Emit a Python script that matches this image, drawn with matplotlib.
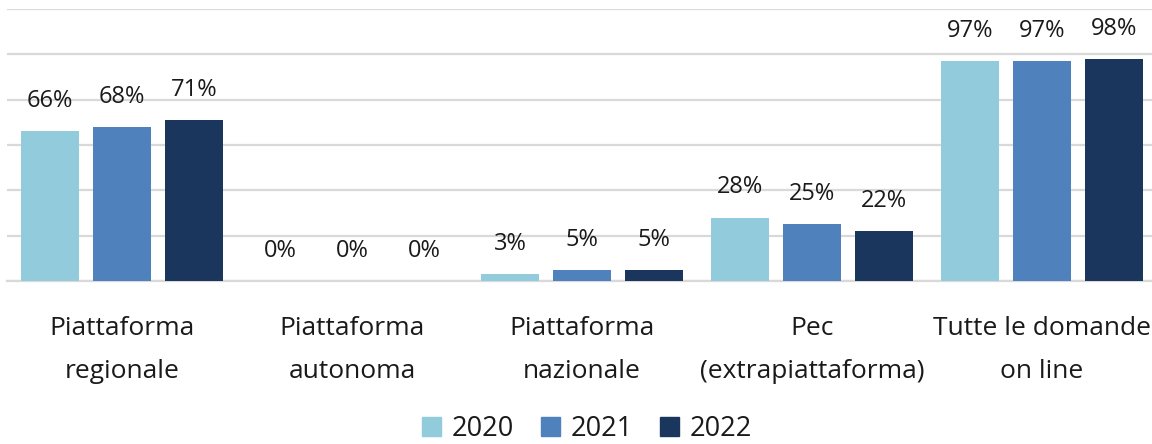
import numpy as np
import matplotlib
matplotlib.use('Agg')
import matplotlib.pyplot as plt
from matplotlib.patches import Patch

plt.rcParams['font.family'] = ['Open Sans', 'DejaVu Sans']

categories = ['Piattaforma\nregionale', 'Piattaforma\nautonoma', 'Piattaforma\nnazionale',
              'Pec\n(extrapiattaforma)', 'Tutte le domande\non line']
years = ['2020', '2021', '2022']
v2020 = [66, 0, 3, 28, 97]
v2021 = [68, 0, 5, 25, 97]
v2022 = [71, 0, 5, 22, 98]
colors = ['#92CBDC', '#4F81BD', '#1B365D']

fig = plt.figure(figsize=(11.52, 4.44), dpi=100)
ax = fig.add_axes([7/1152, 163/444, 1150/1152, 272/444])

x = np.arange(len(categories))
w = 0.248
pitch = 0.313
for i, (vals, c) in enumerate(zip([v2020, v2021, v2022], colors)):
    xs = x + (i - 1)*pitch
    ax.bar(xs, vals, width=w, color=c, zorder=3)
    for xx, v in zip(xs, vals):
        ax.annotate('{}%'.format(v), (xx, v), xytext=(0, 13), textcoords='offset points',
                    ha='center', va='bottom', fontsize=17, color='#1a1a1a')

ax.set_ylim(0, 120)
ax.set_xlim(-0.5, 4.5)
ax.set_yticks(np.arange(0, 121, 20))
ax.yaxis.grid(True, color='#D9D9D9', linewidth=1.6, zorder=0)
ax.tick_params(axis='y', left=False, labelleft=False)
ax.tick_params(axis='x', bottom=False, pad=22)
ax.set_xticks(x)
ax.set_xticklabels(categories, fontsize=19, color='#1a1a1a', linespacing=1.9)
for s in ['top', 'right', 'left']:
    ax.spines[s].set_visible(False)
ax.spines['bottom'].set_color('#D9D9D9')
ax.spines['bottom'].set_linewidth(1.6)

handles = [Patch(color=c) for c in colors]
fig.legend(handles, years, loc='center', bbox_to_anchor=(587/1152, 1 - 429/444),
           ncol=3, frameon=False, fontsize=19.5, handlelength=0.7, handleheight=0.7,
           handletextpad=0.4, columnspacing=1.0, labelcolor='#1a1a1a',
           borderpad=0.2)

fig.savefig('out.png', dpi=100)
